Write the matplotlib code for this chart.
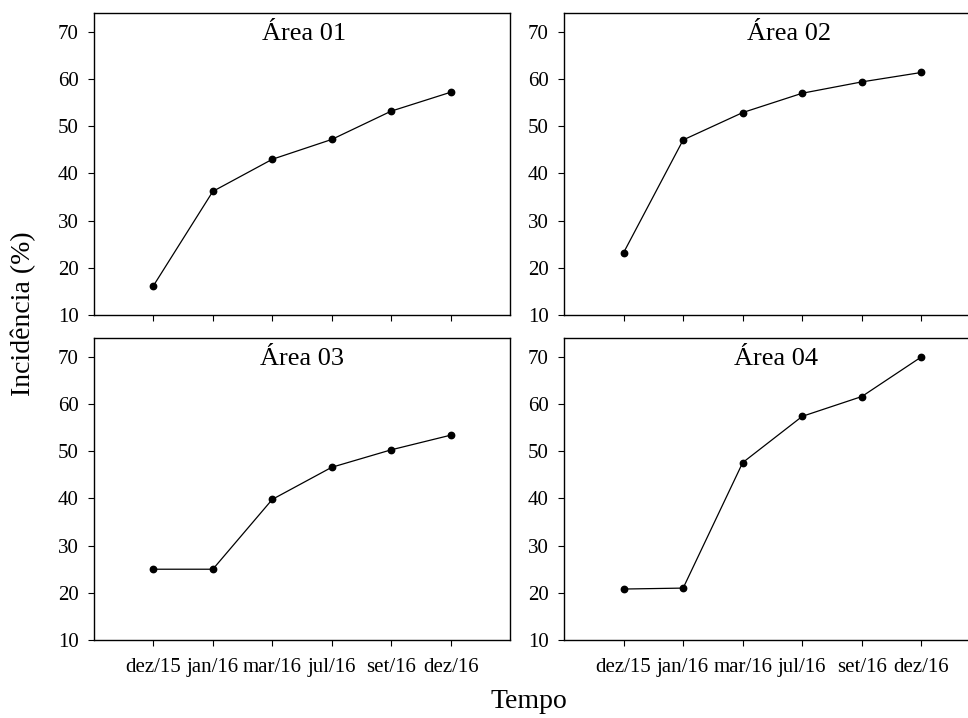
import matplotlib.pyplot as plt
import numpy as np

plt.rcParams['font.family'] = ['Liberation Serif', 'DejaVu Serif']

meses = ['dez/15', 'jan/16', 'mar/16', 'jul/16', 'set/16', 'dez/16']
area01 = [16.2, 36.2, 43.0, 47.2, 53.2, 57.2]
area02 = [23.2, 47.1, 52.9, 57.0, 59.4, 61.4]
area03 = [25.0, 25.0, 39.8, 46.6, 50.3, 53.4]
area04 = [20.8, 21.0, 47.6, 57.4, 61.6, 70.0]
titulos = ['Área 01', 'Área 02', 'Área 03', 'Área 04']
yticks = [10, 20, 30, 40, 50, 60, 70]

W, H = 968, 718
fig = plt.figure(figsize=(W / 100, H / 100), dpi=100)

# panel boxes in pixels: left, top, width, height
caixas = [(94, 13, 416, 302), (564, 13, 417, 302),
          (94, 338, 416, 302), (564, 338, 417, 302)]
pos_titulo = [0.505, 0.54, 0.50, 0.508]
dados = [area01, area02, area03, area04]

x = np.arange(1, len(meses) + 1)
for i in range(4):
    l, t, w, h = caixas[i]
    ax = fig.add_axes([l / W, (H - t - h) / H, w / W, h / H])
    ax.plot(x, dados[i], color='black', lw=0.9, marker='o', ms=4.6,
            clip_on=False)
    ax.set_xlim(0, 7)
    ax.set_ylim(10, 74)
    ax.set_yticks(yticks)
    ax.set_xticks(x)
    if i >= 2:
        ax.set_xticklabels(meses)
    else:
        ax.set_xticklabels([])
    ax.tick_params(direction='out', length=4, width=0.8, labelsize=15,
                   colors='black')
    ax.tick_params(axis='y', pad=7)
    ax.tick_params(axis='x', pad=9)
    for s in ax.spines.values():
        s.set_linewidth(1.0)
        s.set_color('black')
    ax.text(pos_titulo[i], 0.912, titulos[i], transform=ax.transAxes,
            ha='center', va='baseline', fontsize=19)

fig.text(23 / W, 1 - 314 / H, 'Incidência (%)', rotation=90,
         ha='center', va='center', fontsize=20)
fig.text(529 / W, 1 - 702 / H, 'Tempo', ha='center', va='center',
         fontsize=20)

fig.savefig('out.png', dpi=100)
